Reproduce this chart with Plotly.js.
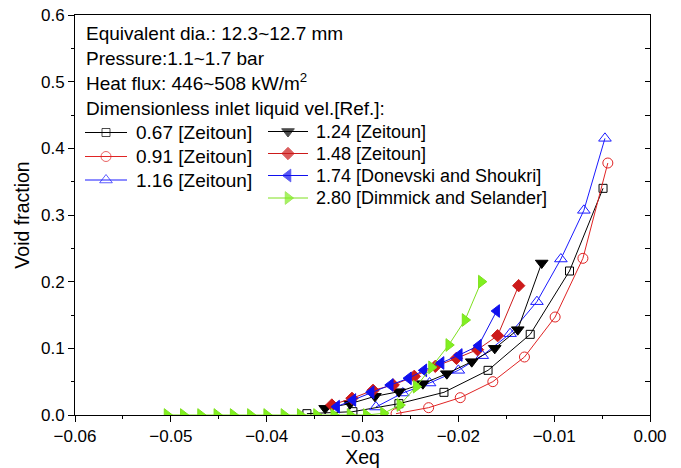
<!DOCTYPE html>
<html><head><meta charset="utf-8">
<script src="https://cdn.plot.ly/plotly-3.0.1.min.js"></script>
<style>body{margin:0;padding:0;background:#fff}#c{width:681px;height:468px}</style>
</head><body><div id="c"></div>
<script>
// Series data (Xeq, void fraction)
const x067 = [-0.0358, -0.0310, -0.0262, -0.0215, -0.0169, -0.0125, -0.0084, -0.0049];
const y067 = [0.002, 0.005, 0.017, 0.034, 0.067, 0.121, 0.216, 0.340];
const x091 = [-0.0265, -0.0231, -0.0198, -0.0164, -0.0131, -0.0099, -0.0070, -0.0044];
const y091 = [0.002, 0.011, 0.026, 0.050, 0.087, 0.147, 0.235, 0.378];
const x116 = [-0.0286, -0.0258, -0.0230, -0.0200, -0.0175, -0.0146, -0.0118, -0.0093, -0.0069, -0.0047];
const y116 = [0.012, 0.033, 0.048, 0.067, 0.089, 0.122, 0.170, 0.234, 0.307, 0.415];
const x124 = [-0.0339, -0.0313, -0.0287, -0.0262, -0.0237, -0.0212, -0.0186, -0.0162, -0.0138, -0.0113];
const y124 = [0.010, 0.017, 0.028, 0.035, 0.047, 0.062, 0.080, 0.100, 0.128, 0.228];
const x148 = [-0.0332, -0.0311, -0.0289, -0.0268, -0.0246, -0.0224, -0.0202, -0.0180, -0.0159, -0.0137];
const y148 = [0.015, 0.025, 0.037, 0.045, 0.058, 0.073, 0.085, 0.098, 0.119, 0.194];
const x174 = [-0.0327, -0.0310, -0.0291, -0.0271, -0.0252, -0.0236, -0.0218, -0.0199, -0.0179, -0.0160];
const y174 = [0.0125, 0.0225, 0.034, 0.045, 0.055, 0.067, 0.078, 0.090, 0.104, 0.156];
const x280 = [-0.0504, -0.0487, -0.0469, -0.0452, -0.0435, -0.0417, -0.0400, -0.0382, -0.0365, -0.0348,
              -0.0330, -0.0313, -0.0296, -0.0278, -0.0261, -0.0244, -0.0228, -0.0210, -0.0193, -0.0176];
const y280 = [0, 0, 0, 0, 0, 0, 0, 0, 0, 0,
              0, 0, 0, 0.0025, 0.015, 0.0425, 0.0715, 0.105, 0.1425, 0.200];

const seriesNames = ['0.67 [Zeitoun]', '0.91 [Zeitoun]', '1.16 [Zeitoun]', '1.24 [Zeitoun]',
                     '1.48 [Zeitoun]', '1.74 [Donevski and Shoukri]', '2.80 [Dimmick and Selander]'];
const infoLines = ['Equivalent dia.: 12.3~12.7 mm', 'Pressure:1.1~1.7 bar',
                   'Heat flux: 446~508 kW/m<sup>2</sup>', 'Dimensionless inlet liquid vel.[Ref.]:'];

const FONT = 'Arial, "Liberation Sans", sans-serif';
const COLFONT = [19, 18];
const INFO = 19;

// series styles
const styles = [
  {c: '#000000', s: 'square-open', z: 8},
  {c: '#e02424', s: 'circle-open', z: 10},
  {c: '#1a1aff', s: 'triangle-up-open', z: 11},
  {c: '#000000', s: 'triangle-down', z: 11},
  {c: '#cc1a1a', s: 'diamond', z: 9.5},
  {c: '#1010ee', s: 'triangle-left', z: 11},
  {c: '#7ee01e', s: 'triangle-right', z: 11, f: '#80f020'}
];
const xs = [x067, x091, x116, x124, x148, x174, x280];
const ys = [y067, y091, y116, y124, y148, y174, y280];

const traces = xs.map((x, i) => ({
  x: x, y: ys[i], name: seriesNames[i], type: 'scatter', mode: 'lines+markers',
  yaxis: i === 6 ? 'y2' : 'y', showlegend: false, cliponaxis: true,
  line: {color: styles[i].c, width: 1},
  marker: {symbol: styles[i].s, size: styles[i].z, color: styles[i].f || styles[i].c,
           line: {color: styles[i].c, width: 1}}
}));

// custom legend (pixel layout on a hidden overlay axis pair)
const legCol = [0, 0, 0, 1, 1, 1, 1];
const legRow = [0, 1, 2, 0, 1, 2, 3];
const colLine = [[85, 127], [268, 308]];
const colText = [134, 314];
const rowY = [[132.5, 156.5, 180], [131.5, 153.5, 175.5, 198]];
const annotations = [];
xs.forEach((x, i) => {
  const c = legCol[i], r = legRow[i];
  const yy = rowY[c][r], l = colLine[c];
  traces.push({
    x: [l[0], (l[0] + l[1]) / 2, l[1]], y: [yy, yy, yy], xaxis: 'x2', yaxis: 'y3',
    type: 'scatter', mode: 'lines+markers', showlegend: false, hoverinfo: 'skip',
    line: {color: styles[i].c, width: 1},
    marker: {symbol: styles[i].s, size: [0, styles[i].z, 0], color: styles[i].f || styles[i].c,
             line: {color: styles[i].c, width: [0, 1, 0]}}
  });
  annotations.push({
    xref: 'x2', yref: 'y3', x: colText[c], y: yy, xanchor: 'left', yanchor: 'middle',
    text: seriesNames[i], showarrow: false, font: {family: FONT, size: COLFONT[c], color: '#000'}
  });
});
const infoY = [33.5, 58, 81.5, 108];
infoLines.forEach((t, i) => annotations.push({
  xref: 'x2', yref: 'y3', x: 84, y: infoY[i], xanchor: 'left', yanchor: 'middle',
  text: t, showarrow: false, font: {family: FONT, size: INFO, color: '#000'}
}));

const layout = {
  width: 681, height: 468,
  margin: {l: 75, r: 31, t: 15, b: 53},
  paper_bgcolor: '#fff', plot_bgcolor: '#fff',
  font: {family: FONT, size: 17, color: '#000'},
  showlegend: false,
  xaxis: {
    range: [-0.06, 0], dtick: 0.01, tick0: -0.06, tickformat: '.2f',
    ticks: 'outside', ticklen: 6, tickwidth: 1, tickcolor: '#000',
    minor: {dtick: 0.005, ticks: 'outside', ticklen: 3, tickcolor: '#000'},
    showline: true, linecolor: '#000', linewidth: 1, mirror: true,
    showgrid: false, zeroline: false,
    tickfont: {family: FONT, size: 17},
    title: {text: 'Xeq', font: {family: FONT, size: 19.5}, standoff: 6}
  },
  yaxis: {
    range: [0, 0.6], dtick: 0.1, tickformat: '.1f',
    ticks: 'outside', ticklen: 6, tickwidth: 1, tickcolor: '#000',
    minor: {dtick: 0.05, ticks: 'outside', ticklen: 3, tickcolor: '#000'},
    showline: true, linecolor: '#000', linewidth: 1, mirror: true,
    showgrid: false, zeroline: false,
    tickfont: {family: FONT, size: 17},
    title: {text: 'Void fraction', font: {family: FONT, size: 19.5}, standoff: 6}
  },
  yaxis2: {
    range: [0, 0.6], dtick: 0.05, overlaying: 'y', side: 'right',
    ticks: 'inside', ticklen: 5, tickcolor: '#000', showticklabels: false,
    showgrid: false, zeroline: false, showline: false
  },
  xaxis2: {range: [75, 650], overlaying: 'x', visible: false, fixedrange: true},
  yaxis3: {range: [415, 15], overlaying: 'y', visible: false, fixedrange: true},
  annotations: annotations
};
Plotly.newPlot('c', traces, layout, {staticPlot: true, displayModeBar: false});
</script></body></html>
